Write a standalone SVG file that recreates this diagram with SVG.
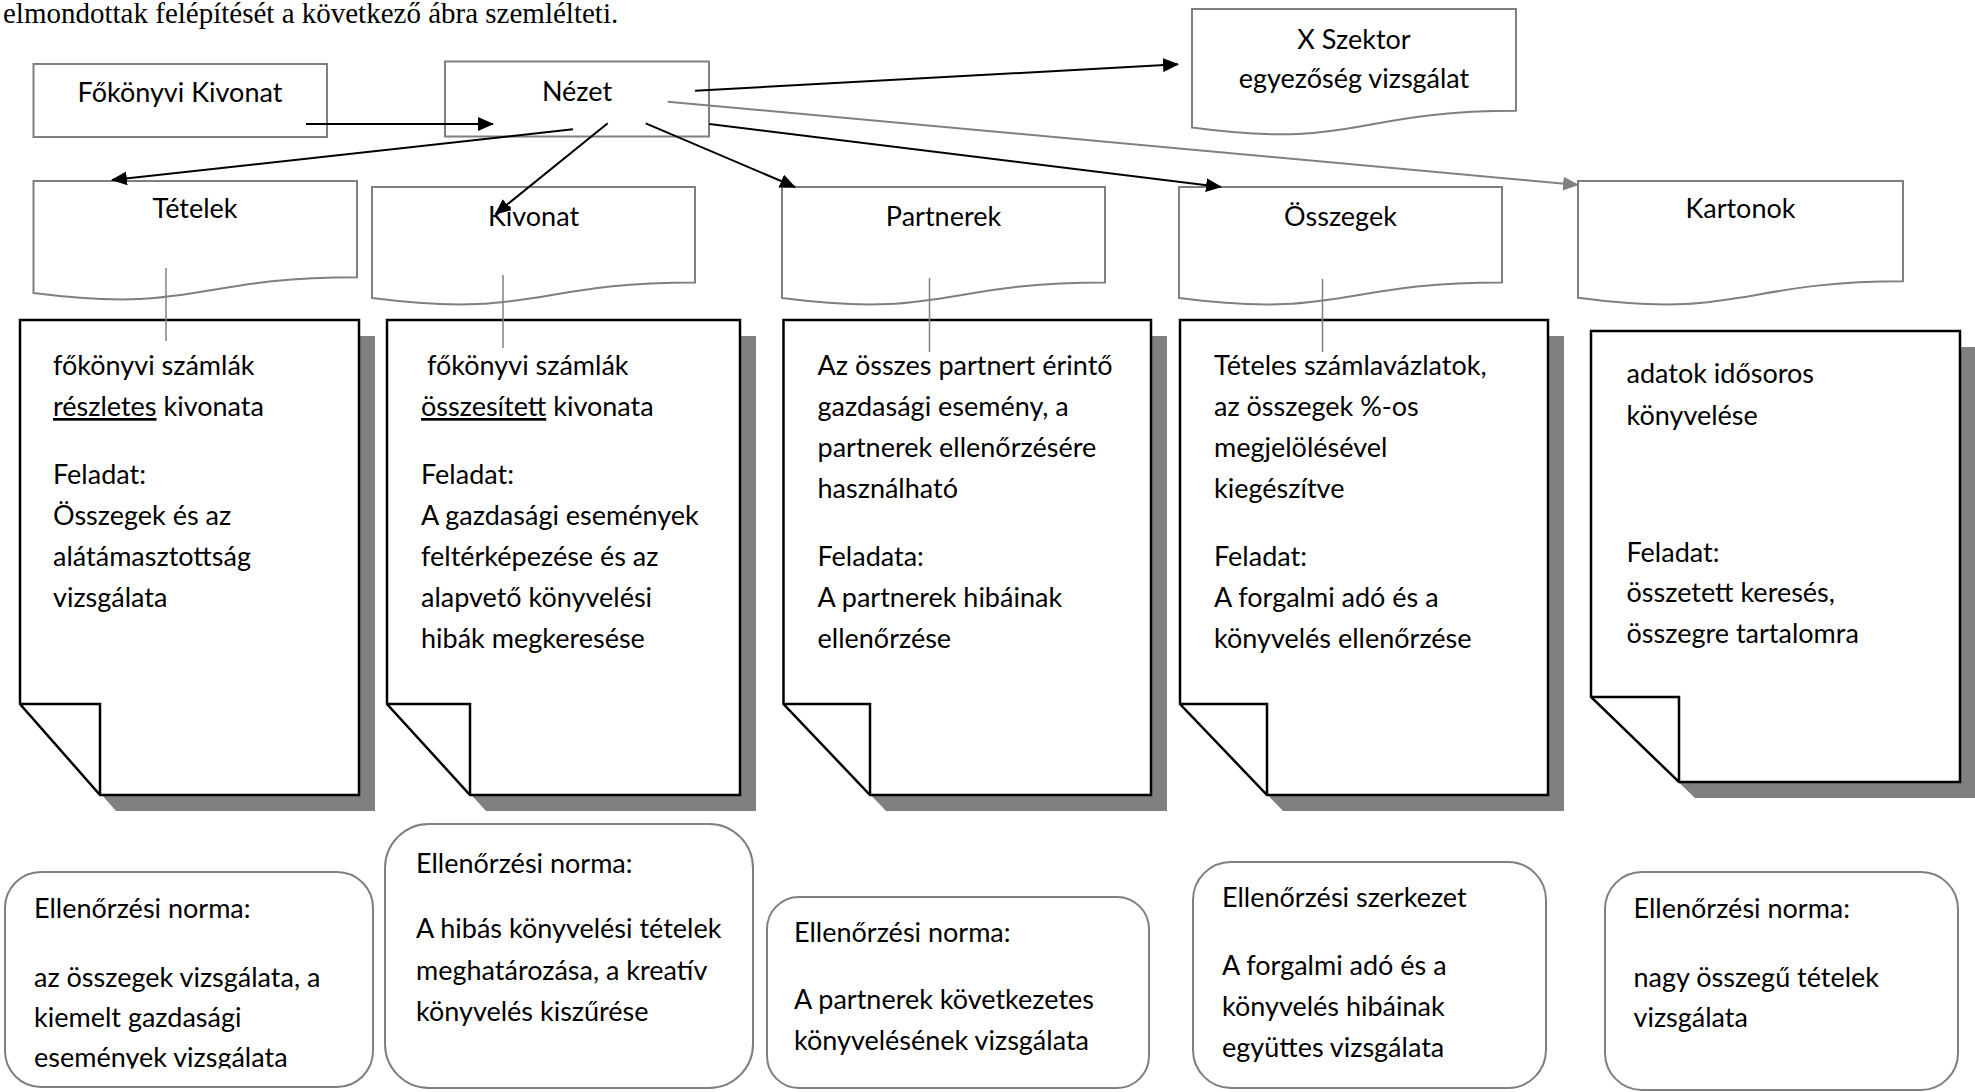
<svg xmlns="http://www.w3.org/2000/svg" width="1975" height="1092" viewBox="0 0 1975 1092">
<style>
.hdr{fill:#fff;stroke:#7f7f7f;stroke-width:2}
.body{fill:#fff;stroke:#000;stroke-width:2.5;stroke-linejoin:miter}
.fold{fill:none;stroke:#000;stroke-width:2.5}
.shadow{fill:#808080}
.norm{fill:#fff;stroke:#7f7f7f;stroke-width:2}
.t{font-family:Lato,"Liberation Sans",sans-serif;font-size:27px;fill:#000}
.c{text-anchor:middle}
.u{text-decoration:underline}
.serif{font-family:"Liberation Serif","Times New Roman",serif;font-size:29px;fill:#000}
.conn{stroke:#000;stroke-width:2;fill:none}
.conng{stroke:#808080;stroke-width:2;fill:none}
.vline{stroke:#808080;stroke-width:1.5;fill:none}
</style>
<defs>
<marker id="ah" markerUnits="userSpaceOnUse" markerWidth="16" markerHeight="14" refX="15" refY="7" orient="auto">
<path d="M0,0 L16,7 L0,14 Z" fill="#000"/>
</marker>
<marker id="ahg" markerUnits="userSpaceOnUse" markerWidth="16" markerHeight="14" refX="15" refY="7" orient="auto">
<path d="M0,0 L16,7 L0,14 Z" fill="#808080"/>
</marker>
<clipPath id="clip1"><rect x="0" y="860" width="380" height="208.5"/></clipPath>
</defs>
<rect width="1975" height="1092" fill="#fff"/>

<text class="serif" x="3" y="23">elmondottak felépítését a következő ábra szemlélteti.</text>

<g id="fokonyvi-kivonat">
<rect class="hdr" x="33.5" y="64" width="293.5" height="73"/>
<text class="t c" x="180" y="102">Főkönyvi Kivonat</text>
</g>

<g id="nezet">
<rect class="hdr" x="445" y="61.5" width="264" height="75"/>
<text class="t c" x="577" y="101">Nézet</text>
</g>

<g id="x-szektor">
<path class="hdr" d="M1192,9 H1516 V110.8 C1354,110.8 1354,149.6 1192,127.6 Z"/>
<text class="t c" x="1354" y="49">X Szektor</text>
<text class="t c" x="1354" y="88">egyezőség vizsgálat</text>
</g>

<g id="tetelek">
<path class="hdr" d="M33.5,181 H357 V277.2 C195.2,277.2 195.2,313.9 33.5,293.1 Z"/>
<text class="t c" x="195" y="218">Tételek</text>
</g>

<g id="kivonat">
<path class="hdr" d="M372,187 H695 V282.4 C533.5,282.4 533.5,318.8 372,298.1 Z"/>
<text class="t c" x="533.5" y="226">Kivonat</text>
</g>

<g id="partnerek">
<path class="hdr" d="M782,187 H1105 V282.4 C943.5,282.4 943.5,318.8 782,298.1 Z"/>
<text class="t c" x="943.5" y="226">Partnerek</text>
</g>

<g id="osszegek">
<path class="hdr" d="M1179,187 H1502 V282.4 C1340.5,282.4 1340.5,318.8 1179,298.1 Z"/>
<text class="t c" x="1340.5" y="226">Összegek</text>
</g>

<g id="kartonok">
<path class="hdr" d="M1578,181 H1903 V281.3 C1740.5,281.3 1740.5,319.4 1578,297.8 Z"/>
<text class="t c" x="1740.5" y="218">Kartonok</text>
</g>

<g id="tetelek-leiras">
<path class="shadow" d="M36,336 H375 V811 H116 L36,720 Z"/>
<path class="body" d="M20,320 H359 V795 H100 L20,704 Z"/>
<path class="fold" d="M20,704 H100 V795"/>
<text class="t" x="53" y="375">főkönyvi számlák</text>
<text class="t" x="53" y="416"><tspan class="u">részletes</tspan> kivonata</text>
<text class="t" x="53" y="484">Feladat:</text>
<text class="t" x="53" y="525">Összegek és az</text>
<text class="t" x="53" y="566">alátámasztottság</text>
<text class="t" x="53" y="607">vizsgálata</text>
</g>

<g id="kivonat-leiras">
<path class="shadow" d="M403,336 H756 V811 H486 L403,720 Z"/>
<path class="body" d="M387,320 H740 V795 H470 L387,704 Z"/>
<path class="fold" d="M387,704 H470 V795"/>
<text class="t" x="427" y="375">főkönyvi számlák</text>
<text class="t" x="421" y="416"><tspan class="u">összesített</tspan> kivonata</text>
<text class="t" x="421" y="484">Feladat:</text>
<text class="t" x="421" y="525">A gazdasági események</text>
<text class="t" x="421" y="566">feltérképezése és az</text>
<text class="t" x="421" y="607">alapvető könyvelési</text>
<text class="t" x="421" y="648">hibák megkeresése</text>
</g>

<g id="partnerek-leiras">
<path class="shadow" d="M799.5,336 H1167 V811 H886 L799.5,720 Z"/>
<path class="body" d="M783.5,320 H1151 V795 H870 L783.5,704 Z"/>
<path class="fold" d="M783.5,704 H870 V795"/>
<text class="t" x="817.5" y="375">Az összes partnert érintő</text>
<text class="t" x="817.5" y="416">gazdasági esemény, a</text>
<text class="t" x="817.5" y="457">partnerek ellenőrzésére</text>
<text class="t" x="817.5" y="498">használható</text>
<text class="t" x="817.5" y="566">Feladata:</text>
<text class="t" x="817.5" y="607">A partnerek hibáinak</text>
<text class="t" x="817.5" y="648">ellenőrzése</text>
</g>

<g id="osszegek-leiras">
<path class="shadow" d="M1196,336 H1564 V811 H1283 L1196,720 Z"/>
<path class="body" d="M1180,320 H1548 V795 H1267 L1180,704 Z"/>
<path class="fold" d="M1180,704 H1267 V795"/>
<text class="t" x="1214" y="375">Tételes számlavázlatok,</text>
<text class="t" x="1214" y="416">az összegek %-os</text>
<text class="t" x="1214" y="457">megjelölésével</text>
<text class="t" x="1214" y="498">kiegészítve</text>
<text class="t" x="1214" y="566">Feladat:</text>
<text class="t" x="1214" y="607">A forgalmi adó és a</text>
<text class="t" x="1214" y="648">könyvelés ellenőrzése</text>
</g>

<g id="kartonok-leiras">
<path class="shadow" d="M1607,347 H1976 V798 H1695 L1607,713 Z"/>
<path class="body" d="M1591,331 H1960 V782 H1679 L1591,697 Z"/>
<path class="fold" d="M1591,697 H1679 V782"/>
<text class="t" x="1626.5" y="383">adatok idősoros</text>
<text class="t" x="1626.5" y="425">könyvelése</text>
<text class="t" x="1626.5" y="562">Feladat:</text>
<text class="t" x="1626.5" y="602">összetett keresés,</text>
<text class="t" x="1626.5" y="643">összegre tartalomra</text>
</g>

<g id="norma-tetelek">
<rect class="norm" x="5" y="872" width="368" height="215" rx="36" ry="36"/>
<g clip-path="url(#clip1)">
<text class="t" x="34" y="918">Ellenőrzési norma:</text>
<text class="t" x="34" y="987">az összegek vizsgálata, a</text>
<text class="t" x="34" y="1027">kiemelt gazdasági</text>
<text class="t" x="34" y="1067">események vizsgálata</text>
</g>
</g>

<g id="norma-kivonat">
<rect class="norm" x="385" y="824" width="368" height="264" rx="44" ry="44"/>
<text class="t" x="416" y="873">Ellenőrzési norma:</text>
<text class="t" x="416" y="938">A hibás könyvelési tételek</text>
<text class="t" x="416" y="980">meghatározása, a kreatív</text>
<text class="t" x="416" y="1021">könyvelés kiszűrése</text>
</g>

<g id="norma-partnerek">
<rect class="norm" x="767" y="897" width="382" height="191" rx="32" ry="32"/>
<text class="t" x="794" y="942">Ellenőrzési norma:</text>
<text class="t" x="794" y="1009">A partnerek következetes</text>
<text class="t" x="794" y="1050">könyvelésének vizsgálata</text>
</g>

<g id="szerkezet-osszegek">
<rect class="norm" x="1193" y="862" width="353" height="226" rx="38" ry="38"/>
<text class="t" x="1222" y="907">Ellenőrzési szerkezet</text>
<text class="t" x="1222" y="975">A forgalmi adó és a</text>
<text class="t" x="1222" y="1016">könyvelés hibáinak</text>
<text class="t" x="1222" y="1057">együttes vizsgálata</text>
</g>

<g id="norma-kartonok">
<rect class="norm" x="1605" y="872" width="353" height="218" rx="37" ry="37"/>
<text class="t" x="1633.5" y="918">Ellenőrzési norma:</text>
<text class="t" x="1633.5" y="987">nagy összegű tételek</text>
<text class="t" x="1633.5" y="1027">vizsgálata</text>
</g>

<g id="connectors">
<line class="vline" x1="166" y1="268" x2="166" y2="341"/>
<line class="vline" x1="503" y1="275" x2="503" y2="348"/>
<line class="vline" x1="929.5" y1="278" x2="929.5" y2="352"/>
<line class="vline" x1="1322.5" y1="279" x2="1322.5" y2="352"/>
<line class="conn" x1="306" y1="124" x2="493" y2="124" marker-end="url(#ah)"/>
<line class="conn" x1="573" y1="129.3" x2="112" y2="180" marker-end="url(#ah)"/>
<line class="conn" x1="607.7" y1="123.3" x2="495.5" y2="214" marker-end="url(#ah)"/>
<line class="conn" x1="645.7" y1="123.3" x2="795" y2="187" marker-end="url(#ah)"/>
<line class="conn" x1="709.3" y1="124" x2="1221" y2="187" marker-end="url(#ah)"/>
<line class="conn" x1="695" y1="90.7" x2="1178" y2="64.3" marker-end="url(#ah)"/>
<line class="conng" x1="667.7" y1="101.7" x2="1578" y2="185" marker-end="url(#ahg)"/>
</g>
</svg>
